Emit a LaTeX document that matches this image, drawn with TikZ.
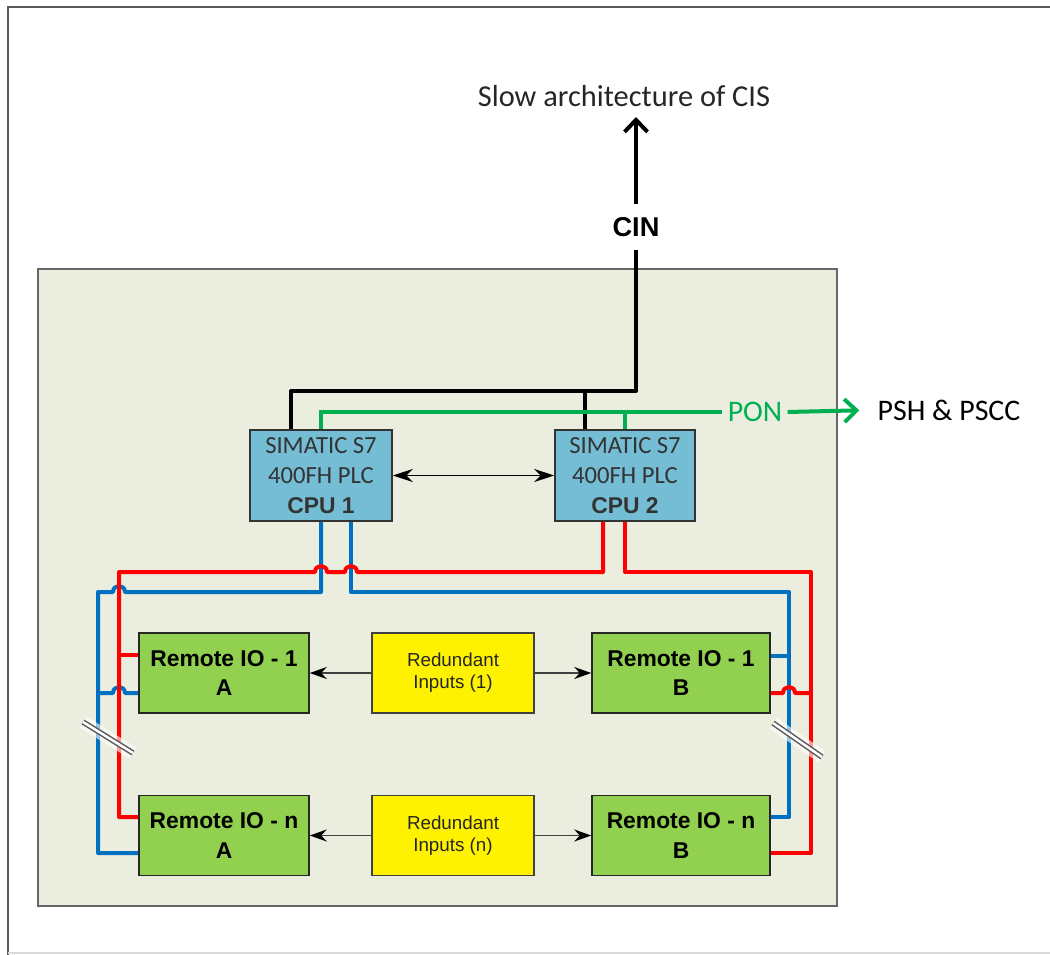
\documentclass[tikz,border=0pt]{standalone}
\usepackage{fontspec}
\setmainfont{Carlito}
\newfontfamily\arialfont{Liberation Sans}
\usepackage{xcolor}
\usetikzlibrary{arrows.meta}
\definecolor{panelbg}{RGB}{235,238,222}
\definecolor{cpublue}{RGB}{116,189,212}
\definecolor{iogreen}{RGB}{146,208,80}
\definecolor{wirered}{RGB}{255,0,0}
\definecolor{wireblue}{RGB}{0,112,192}
\definecolor{ponwire}{RGB}{0,176,80}

\tikzset{
  cpubox/.style={draw=black!80,line width=0.3mm,fill=cpublue,align=center,
    minimum width=28.4mm,minimum height=18.2mm,inner sep=0pt,
    font=\fontsize{14}{17}\selectfont,text=black!80},
  iobox/.style={draw=black!85,line width=0.3mm,fill=iogreen,align=center,
    minimum width=34mm,minimum height=16mm,inner sep=0pt,
    font=\arialfont\bfseries\fontsize{13}{17}\selectfont},
  inbox/.style={draw=black!75,line width=0.3mm,fill=yellow,align=center,
    minimum width=32.4mm,minimum height=16mm,inner sep=0pt,
    font=\arialfont\fontsize{10.7}{12.5}\selectfont,text=black!85},
  redwire/.style={draw=wirered,line width=0.8mm,line join=round},
  bluewire/.style={draw=wireblue,line width=0.8mm,line join=round},
  cinwire/.style={draw=black,line width=0.8mm,line join=round},
  ponline/.style={draw=ponwire,line width=0.8mm},
  ioarrow/.style={draw=black!75,line width=0.3mm,-{Stealth[length=3.4mm,width=2.4mm,black]}},
  breakmark/.style={draw=black!65,line width=0.3mm,double=white,double distance=0.5mm,
    preaction={draw=white,line width=2.6mm,opacity=0.6}}
}

\begin{document}
\begin{tikzpicture}[x=0.2mm,y=-0.2mm]
\useasboundingbox (0,0) rectangle (1050,955);
% outer frame
\draw[black!65,line width=0.4mm] (8,955) -- (8,7) -- (1050,7);
\draw[black!15,line width=0.3mm] (8,953) -- (1050,953);
% cabinet
\draw[draw=black!60,fill=panelbg,line width=0.3mm] (38,269) rectangle (837,906);

\node[font=\fontsize{17.3}{20}\selectfont,text=black!85,inner sep=2mm] (slow) at (624,96) {Slow architecture of CIS};
\node[font=\arialfont\bfseries\fontsize{15.5}{18}\selectfont,inner sep=2.6mm] (cin) at (636,227) {CIN};
\node[font=\fontsize{17}{20}\selectfont,text=ponwire,inner sep=1mm] (pon) at (755,412) {PON};
\node[font=\fontsize{17}{20}\selectfont,inner sep=1mm] (psh) at (949,410) {PSH \& PSCC};

\node[cpubox] (cpu1) at (321,475.5) {SIMATIC S7\\400FH PLC\\{\arialfont\bfseries\fontsize{13}{17}\selectfont CPU 1}};
\node[cpubox,minimum width=28mm] (cpu2) at (625,475.5) {SIMATIC S7\\400FH PLC\\{\arialfont\bfseries\fontsize{13}{17}\selectfont CPU 2}};

\node[iobox] (rio1A) at (224,673) {Remote IO - 1\\A};
\node[iobox,minimum width=35.6mm] (rio1B) at (681,673) {Remote IO - 1\\B};
\node[iobox] (rionA) at (224,835.5) {Remote IO - n\\A};
\node[iobox,minimum width=35.6mm] (rionB) at (681,835.5) {Remote IO - n\\B};
\node[inbox] (in1) at (453,673) {Redundant\\Inputs (1)};
\node[inbox] (inn) at (453,835.5) {Redundant\\Inputs (n)};

% CIN and PON
\draw[cinwire] ([xshift=-6mm]cpu1.north) |- (cin.south |- 0,391) -- (cin.south);
\draw[cinwire] ([xshift=-8mm]cpu2.north) -- ++(0,-39);
\draw[cinwire,-{Straight Barb[length=2.4mm,width=4.6mm]}] (cin.north) -- (cin.north |- slow.south);
\draw[ponline] (cpu1.north) |- (pon.west);
\draw[ponline] (cpu2.north) -- ++(0,-18);
\draw[ponline,-{Straight Barb[length=2.4mm,width=4.6mm]},shorten >=2.6mm] (pon.east) -- (psh.west);
\draw[line width=0.3mm,{Stealth[length=4mm,width=2.6mm]}-{Stealth[length=4mm,width=2.6mm]}] (cpu1.east) -- (cpu2.west);

% blue wires
\draw[bluewire] (cpu1.south) |- (125,592) .. controls (125,584) and (113,584) .. (113,592) -| (98,853) -- (rionA.west |- 0,853);
\draw[bluewire] (98,693) -- (113,693) .. controls (113,685) and (125,685) .. (125,693) -- (rio1A.west |- 0,693);
\draw[bluewire] ([xshift=6mm]cpu1.south) |- (789,592) |- (rionB.east |- 0,817);
\draw[bluewire] (789,656) -- (rio1B.east |- 0,656);
% red wires
\draw[redwire] ([xshift=-4.4mm]cpu2.south) |- (357,572) .. controls (357,564) and (345,564) .. (345,572) -- (327,572) .. controls (327,564) and (315,564) .. (315,572) -| (119,817) -- (rionA.west |- 0,817);
\draw[redwire] (119,655) -- (rio1A.west |- 0,655);
\draw[redwire] (cpu2.south) |- (811,572) |- (rionB.east |- 0,853);
\draw[redwire] (811,693) -- (795,693) .. controls (795,685) and (783,685) .. (783,693) -- (rio1B.east |- 0,693);

% redundant inputs
\draw[ioarrow] (in1.west) -- (rio1A.east);
\draw[ioarrow] (in1.east) -- (rio1B.west);
\draw[ioarrow] (inn.west) -- (rionA.east);
\draw[ioarrow] (inn.east) -- (rionB.west);

% breaks
\draw[breakmark] (83,722) -- (133,753);
\draw[breakmark] (773,723) -- (822,757);
\end{tikzpicture}
\end{document}
